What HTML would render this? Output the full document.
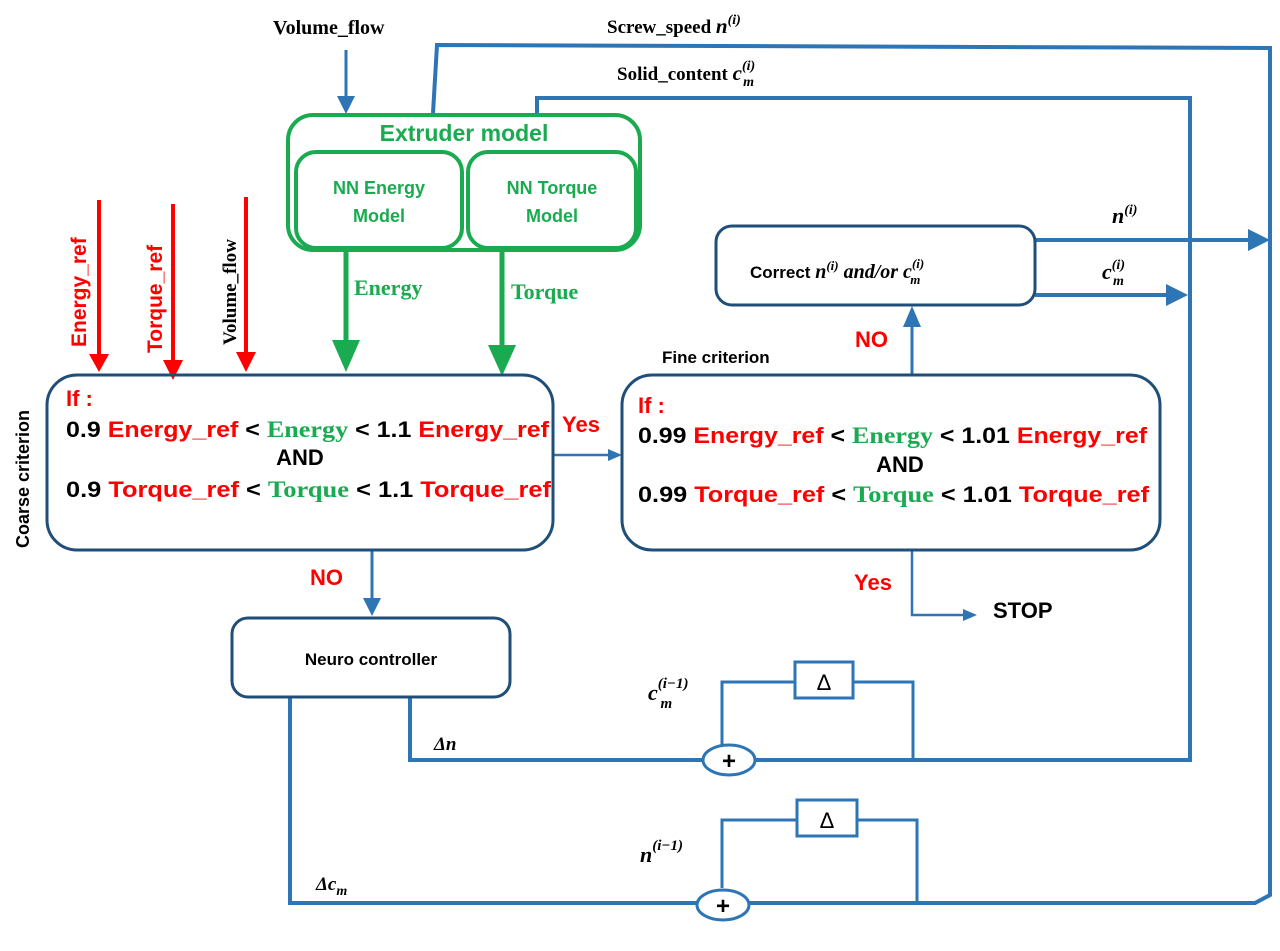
<!DOCTYPE html>
<html><head><meta charset="utf-8"><style>
body{margin:0;background:#fff}
svg{display:block}
.b{font-family:"Liberation Sans",sans-serif;font-weight:bold}
.s{font-family:"Liberation Serif",serif;font-weight:bold}
.m{font-family:"Liberation Serif",serif;font-weight:bold;font-style:italic}
</style></head><body>
<svg width="1280" height="951" viewBox="0 0 1280 951" xmlns="http://www.w3.org/2000/svg">
<g fill="none" stroke="#2e75b6" stroke-width="4">
<polyline points="433,113 437,45 1270,48 1270,895 1255,903 290,903 290,697"/>
<polyline points="537,113 537,98 1190,98 1190,760 410,760 410,697"/>
<line x1="346" y1="50" x2="346" y2="98" stroke-width="3"/>
<line x1="553" y1="455" x2="610" y2="455" stroke-width="2.5"/>
<line x1="912" y1="375" x2="912" y2="325" stroke-width="3"/>
<line x1="1035" y1="240" x2="1250" y2="240"/>
<line x1="1035" y1="295" x2="1168" y2="295"/>
<polyline points="912,550 912,615 965,615" stroke-width="2.5"/>
<line x1="372" y1="550" x2="372" y2="600" stroke-width="3"/>
<polyline points="722,745 722,682 795,682" stroke-width="3"/>
<polyline points="853,682 913,682 913,760" stroke-width="3"/>
<polyline points="722,888 722,820 797,820" stroke-width="3"/>
<polyline points="857,820 917,820 917,903" stroke-width="3"/>
</g>
<g fill="#2e75b6">
<path d="M337,96 L355,96 L346,114z"/>
<path d="M903,327 L921,327 L912,306z"/>
<path d="M1248,229 L1270,240 L1248,251z"/>
<path d="M1166,284 L1188,295 L1166,306z"/>
<path d="M608,449 L622,455 L608,461z"/>
<path d="M963,609 L977,615 L963,621z"/>
<path d="M363,598 L381,598 L372,616z"/>
</g>
<g fill="#fff" stroke="#2e75b6" stroke-width="3">
<rect x="795" y="662" width="58" height="36"/>
<rect x="797" y="800" width="60" height="36"/>
<ellipse cx="729" cy="760" rx="26" ry="15"/>
<ellipse cx="723" cy="905" rx="26" ry="15"/>
</g>
<text x="824" y="690" font-size="22" text-anchor="middle" font-family="Liberation Sans,sans-serif">Δ</text>
<text x="827" y="828" font-size="22" text-anchor="middle" font-family="Liberation Sans,sans-serif">Δ</text>
<text x="729" y="769" font-size="24" text-anchor="middle" class="b">+</text>
<text x="723" y="914" font-size="24" text-anchor="middle" class="b">+</text>

<g fill="none" stroke="#1aaa50" stroke-width="4">
<rect x="288" y="115" width="352" height="135" rx="25"/>
<rect x="296" y="152" width="166" height="96" rx="20"/>
<rect x="468" y="152" width="168" height="96" rx="20"/>
<line x1="346" y1="250" x2="346" y2="340" stroke-width="5"/>
<line x1="502" y1="250" x2="502" y2="345" stroke-width="5"/>
</g>
<g fill="#1aaa50">
<path d="M332,340 L360,340 L346,372z"/>
<path d="M488,345 L516,345 L502,376z"/>
</g>
<text x="464" y="141" font-size="23" text-anchor="middle" class="b" fill="#1aaa50">Extruder model</text>
<text x="379" y="194" font-size="18" text-anchor="middle" class="b" fill="#1aaa50">NN Energy</text>
<text x="379" y="222" font-size="18" text-anchor="middle" class="b" fill="#1aaa50">Model</text>
<text x="552" y="194" font-size="18" text-anchor="middle" class="b" fill="#1aaa50">NN Torque</text>
<text x="552" y="222" font-size="18" text-anchor="middle" class="b" fill="#1aaa50">Model</text>
<text x="354" y="295" font-size="22" class="s" fill="#1aaa50">Energy</text>
<text x="511" y="299" font-size="22" class="s" fill="#1aaa50">Torque</text>

<g stroke="#f00" stroke-width="4">
<line x1="99" y1="200" x2="99" y2="355"/>
<line x1="173" y1="204" x2="173" y2="362"/>
<line x1="246" y1="197" x2="246" y2="355"/>
</g>
<g fill="#f00">
<path d="M89,354 L109,354 L99,372z"/>
<path d="M163,360 L183,360 L173,380z"/>
<path d="M236,352 L256,352 L246,372z"/>
</g>
<text transform="translate(86,347) rotate(-90)" font-size="21" class="b" fill="#f00">Energy_ref</text>
<text transform="translate(162,353) rotate(-90)" font-size="21" class="b" fill="#f00">Torque_ref</text>
<text transform="translate(236,345) rotate(-90)" font-size="19" class="s" fill="#000">Volume_flow</text>
<text transform="translate(29,548) rotate(-90)" font-size="18" class="b" fill="#000">Coarse criterion</text>

<g fill="none" stroke="#1f4e79" stroke-width="3">
<rect x="47" y="375" width="506" height="175" rx="30"/>
<rect x="622" y="375" width="538" height="175" rx="30"/>
<rect x="716" y="226" width="319" height="79" rx="16"/>
<rect x="232" y="618" width="278" height="79" rx="16"/>
</g>
<g font-size="22" class="b">
<text x="66" y="406" fill="#f00">If :</text>
<text x="66" y="437" textLength="483" lengthAdjust="spacingAndGlyphs"><tspan fill="#000">0.9 </tspan><tspan fill="#f00">Energy_ref</tspan><tspan fill="#000"> &lt; </tspan><tspan fill="#1aaa50" class="s" font-size="23">Energy</tspan><tspan fill="#000"> &lt;  1.1 </tspan><tspan fill="#f00">Energy_ref</tspan></text>
<text x="300" y="465" text-anchor="middle" fill="#000">AND</text>
<text x="66" y="497" textLength="485" lengthAdjust="spacingAndGlyphs"><tspan fill="#000">0.9 </tspan><tspan fill="#f00">Torque_ref</tspan><tspan fill="#000"> &lt; </tspan><tspan fill="#1aaa50" class="s" font-size="23">Torque</tspan><tspan fill="#000"> &lt;  1.1 </tspan><tspan fill="#f00">Torque_ref</tspan></text>
<text x="638" y="413" fill="#f00">If :</text>
<text x="638" y="443" textLength="509" lengthAdjust="spacingAndGlyphs"><tspan fill="#000">0.99 </tspan><tspan fill="#f00">Energy_ref</tspan><tspan fill="#000"> &lt; </tspan><tspan fill="#1aaa50" class="s" font-size="23">Energy</tspan><tspan fill="#000"> &lt;  1.01 </tspan><tspan fill="#f00">Energy_ref</tspan></text>
<text x="900" y="472" text-anchor="middle" fill="#000">AND</text>
<text x="638" y="502" textLength="511" lengthAdjust="spacingAndGlyphs"><tspan fill="#000">0.99 </tspan><tspan fill="#f00">Torque_ref</tspan><tspan fill="#000"> &lt; </tspan><tspan fill="#1aaa50" class="s" font-size="23">Torque</tspan><tspan fill="#000"> &lt;  1.01 </tspan><tspan fill="#f00">Torque_ref</tspan></text>
<text x="562" y="432" fill="#f00">Yes</text>
<text x="855" y="347" fill="#f00">NO</text>
<text x="854" y="590" fill="#f00">Yes</text>
<text x="310" y="585" fill="#f00">NO</text>
<text x="993" y="618" fill="#000">STOP</text>
</g>
<text x="662" y="363" font-size="17" class="b">Fine criterion</text>
<text x="371" y="665" font-size="17" class="b" text-anchor="middle">Neuro controller</text>
<text x="750" y="278" font-size="17" class="b">Correct <tspan class="m" font-size="20">n<tspan dy="-8" font-size="13">(i)</tspan><tspan dy="8"> and/or c</tspan><tspan dy="-10" font-size="13">(i)</tspan><tspan dx="-14" dy="16" font-size="13">m</tspan></tspan></text>

<text x="273" y="34" font-size="20" class="s">Volume_flow</text>
<text x="607" y="33" font-size="19" class="s">Screw_speed <tspan class="m" font-size="21">n<tspan dy="-9" font-size="14">(i)</tspan></tspan></text>
<text x="617" y="80" font-size="19" class="s">Solid_content <tspan class="m" font-size="21">c<tspan dy="-10" font-size="14">(i)</tspan><tspan dx="-12" dy="16" font-size="14">m</tspan></tspan></text>
<text x="1112" y="223" class="m" font-size="22">n<tspan dy="-9" font-size="14">(i)</tspan></text>
<text x="1102" y="279" class="m" font-size="22">c<tspan dy="-10" font-size="14">(i)</tspan><tspan dx="-12" dy="16" font-size="14">m</tspan></text>
<text x="648" y="700" class="m" font-size="22">c<tspan dy="-12" font-size="15">(i−1)</tspan><tspan dx="-28" dy="20" font-size="15">m</tspan></text>
<text x="640" y="862" class="m" font-size="22">n<tspan dy="-12" font-size="15">(i−1)</tspan></text>
<text x="434" y="750" class="m" font-size="19">Δn</text>
<text x="316" y="890" class="m" font-size="19">Δc<tspan dy="5" font-size="14">m</tspan></text>
</svg>
</body></html>
